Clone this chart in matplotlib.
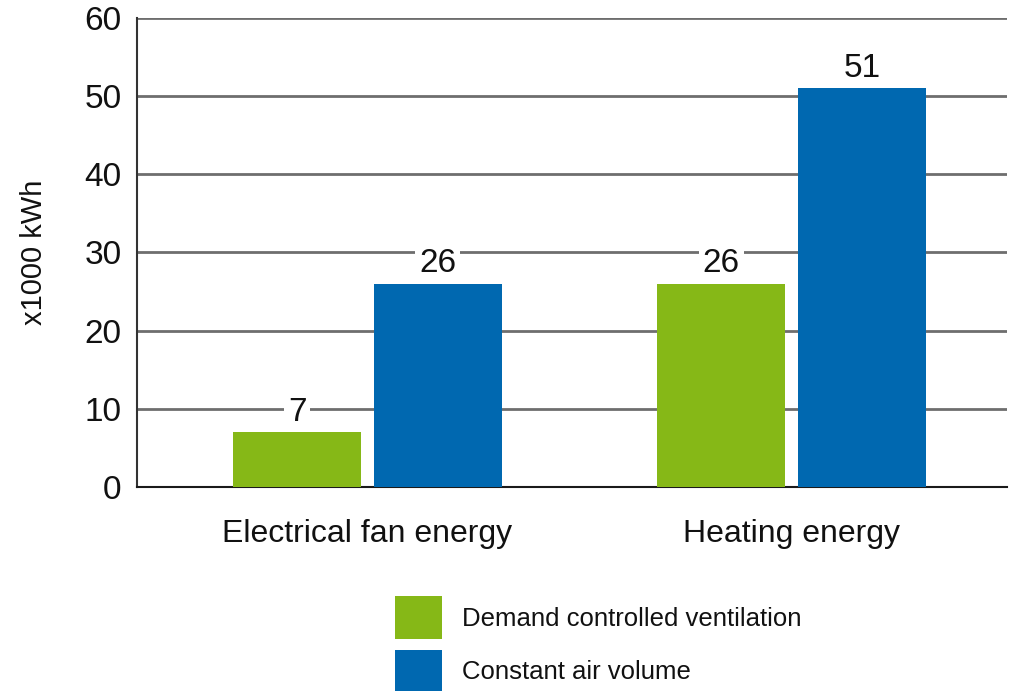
import numpy as np
import matplotlib.pyplot as plt

plt.rcParams['font.family'] = ['Liberation Sans', 'DejaVu Sans']

categories = ['Electrical fan energy', 'Heating energy']
series_names = ['Demand controlled ventilation', 'Constant air volume']
dcv_values = [7, 26]
cav_values = [26, 51]
yticks = [0, 10, 20, 30, 40, 50, 60]

green = '#86b817'
blue = '#0068b0'
ink = '#111111'

fig = plt.figure(figsize=(10.12, 6.91), dpi=100)
ax = fig.add_axes([137 / 1012, 1 - 487 / 691, 870 / 1012, 469 / 691])

x = np.arange(len(categories))
w = 0.302
off = 0.166

b1 = ax.bar(x - off, dcv_values, w, color=green, label=series_names[0], zorder=3)
b2 = ax.bar(x + off, cav_values, w, color=blue, label=series_names[1], zorder=3)

# value labels sit on a white box so they cut through the gridlines
for bars in (b1, b2):
    for rect in bars:
        h = rect.get_height()
        ax.annotate(f'{h:g}', (rect.get_x() + rect.get_width() / 2, h),
                    xytext=(0, 20), textcoords='offset pixels',
                    ha='center', va='center', fontsize=24, color=ink,
                    bbox=dict(facecolor='white', edgecolor='none', pad=3),
                    zorder=4)

ax.set_xlim(-0.5436, 1.508)
ax.set_ylim(0, 60)
ax.set_yticks(yticks)
ax.set_xticks(x)
ax.set_xticklabels(categories)
ax.tick_params(axis='y', length=0, pad=11, labelsize=24, colors=ink)
ax.tick_params(axis='x', length=0, pad=23, labelsize=23, colors=ink)
ax.yaxis.grid(True, color='#6e6e6e', linewidth=2, zorder=0)
ax.set_axisbelow(True)
ax.set_ylabel('x1000 kWh', fontsize=21, color=ink, labelpad=26)

for s in ('top', 'right'):
    ax.spines[s].set_visible(False)
ax.spines['left'].set_color('#333333')
ax.spines['left'].set_linewidth(1.5)
ax.spines['bottom'].set_color('#1a1a1a')
ax.spines['bottom'].set_linewidth(1.5)

fig.legend(handles=[b1, b2], loc='upper left',
           bbox_to_anchor=(395 / 1012, 95 / 691), frameon=False,
           fontsize=18.5, borderpad=0, borderaxespad=0,
           handlelength=1.83, handleheight=2.2, handletextpad=0.76,
           labelspacing=0.42, labelcolor=ink)

fig.savefig('out.png', dpi=100)
